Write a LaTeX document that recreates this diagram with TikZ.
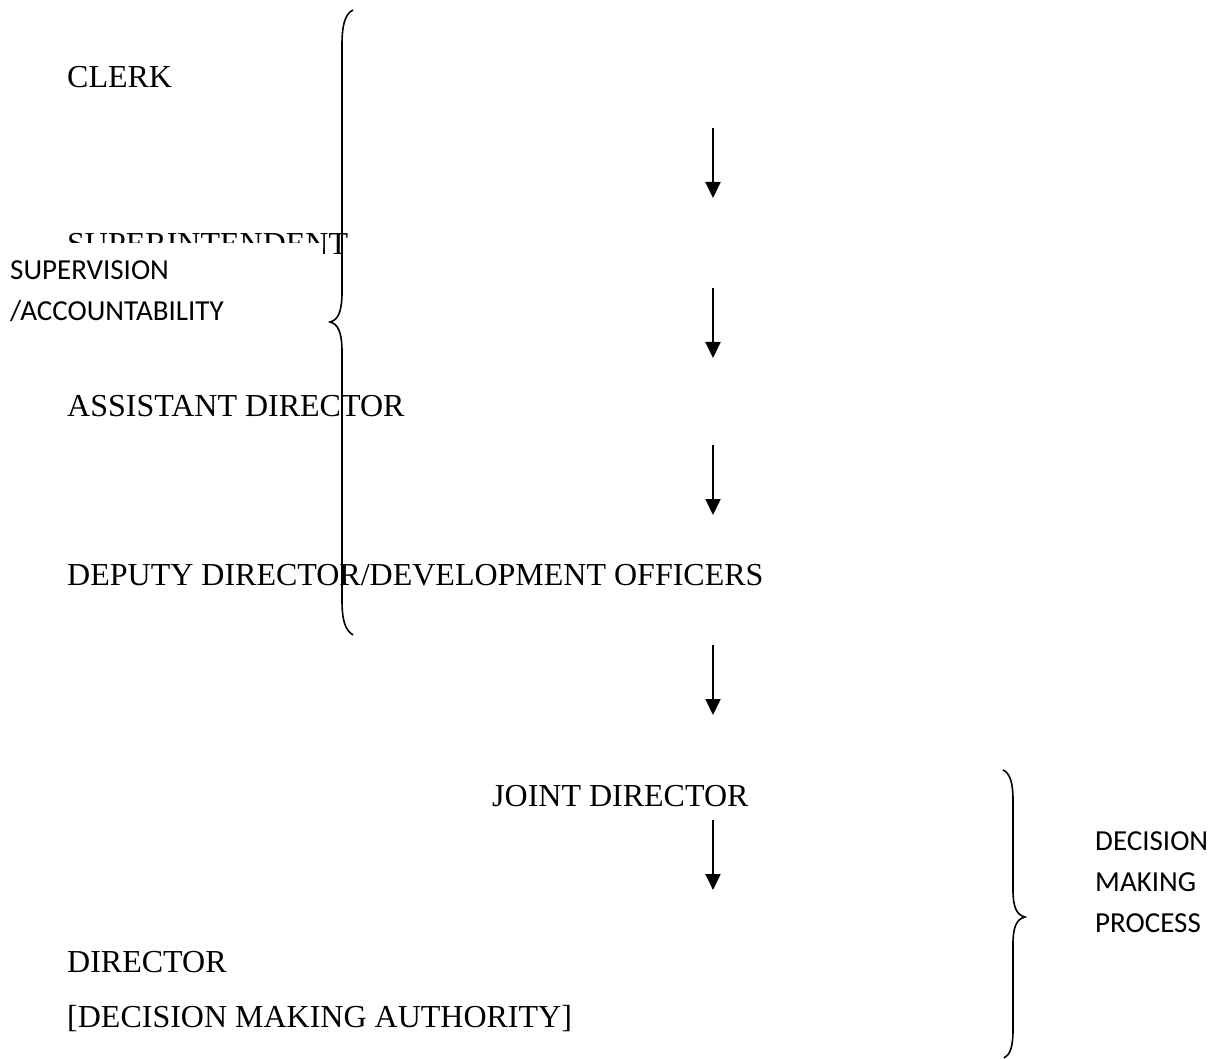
\documentclass[tikz,border=0pt]{standalone}
\usepackage{fontspec}
\setmainfont{Liberation Serif}
\newfontfamily\notefont{Carlito}
\usetikzlibrary{arrows.meta}

\begin{document}
\begin{tikzpicture}[x=1pt, y=-1pt,
    rank/.style={anchor=base west, inner sep=0pt, font=\fontsize{32}{38}\selectfont},
    note/.style={anchor=base west, inner sep=0pt, align=left, font=\notefont\fontsize{29}{41}\selectfont},
    flow/.style={-{Triangle[length=16pt, width=15pt]}, line width=2pt},
    curly/.style={line width=1.6pt}]
    \useasboundingbox (0,0) rectangle (1211,1059);

    % Ranks
    \node[rank] (clerk) at (67, 88) {CLERK};
    \node[rank] (supt) at (67, 255) {SUPERINTENDENT};
    \node[rank] (asst) at (67, 417) {ASSISTANT DIRECTOR};
    \node[rank] (deputy) at (67, 585) {DEPUTY DIRECTOR/DEVELOPMENT OFFICERS};
    \node[rank] (joint) at (492, 806) {JOINT DIRECTOR};
    \node[rank] (director) at (67, 972) {DIRECTOR};
    \node[rank] (authority) at (67, 1027) {[DECISION MAKING AUTHORITY]};

    % Label over the superintendent
    \node[anchor=north west, fill=white, inner xsep=10pt, inner ysep=17pt, text width=303pt, align=left,
          font=\notefont\fontsize{29}{41}\selectfont] (superv) at (0, 243) {SUPERVISION\\/ACCOUNTABILITY};

    % Arrow ends
    \coordinate (a1) at (713, 128);  \coordinate (b1) at (713, 198);
    \coordinate (a2) at (713, 288);  \coordinate (b2) at (713, 358);
    \coordinate (a3) at (713, 445);  \coordinate (b3) at (713, 515);
    \coordinate (a4) at (713, 645);  \coordinate (b4) at (713, 715);
    \coordinate (a5) at (713, 820);  \coordinate (b5) at (713, 890);

    % Arrows
    \foreach \i in {1,...,5}
        \draw[flow] (a\i) -- (b\i);

    % Braces
    \draw[curly] (353, 10) .. controls (345, 14) and (342, 25) .. (342, 45) -- (342, 292)
        .. controls (342, 312) and (338, 320) .. (330, 322)
        .. controls (338, 324) and (342, 332) .. (342, 352) -- (342, 600)
        .. controls (342, 620) and (345, 630) .. (353, 635);
    \draw[curly] (1003, 770) .. controls (1010, 773) and (1013, 783) .. (1013, 800) -- (1013, 890)
        .. controls (1013, 908) and (1017, 915) .. (1025, 917)
        .. controls (1017, 919) and (1013, 926) .. (1013, 944) -- (1013, 1030)
        .. controls (1013, 1047) and (1010, 1055) .. (1004, 1058);

    % Label for the decision braces (base is the last line)
    \node[note] (decision) at (1095, 932) {DECISION\\MAKING\\PROCESS};
\end{tikzpicture}
\end{document}
